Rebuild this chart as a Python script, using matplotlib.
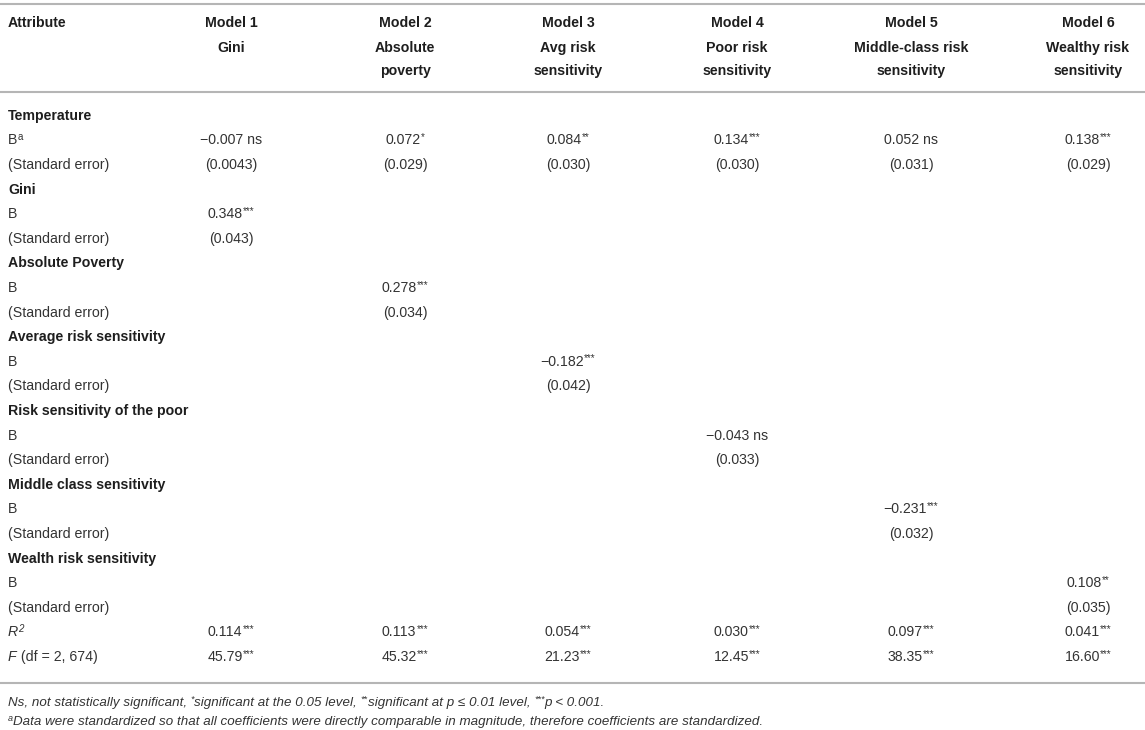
import matplotlib
matplotlib.use("Agg")
import matplotlib.pyplot as plt

# ---- table content ----
models = ["Model 1", "Model 2", "Model 3", "Model 4", "Model 5", "Model 6"]
model_desc = ["Gini", "Absolute\npoverty", "Avg risk\nsensitivity",
              "Poor risk\nsensitivity", "Middle-class risk\nsensitivity",
              "Wealthy risk\nsensitivity"]

temp_b = ["\u22120.007", "0.072", "0.084", "0.134", "0.052", "0.138"]
temp_sig = [" ns", "*", "**", "***", " ns", "***"]
temp_se = ["(0.0043)", "(0.029)", "(0.030)", "(0.030)", "(0.031)", "(0.029)"]

predictors = ["Gini", "Absolute Poverty", "Average risk sensitivity",
              "Risk sensitivity of the poor", "Middle class sensitivity",
              "Wealth risk sensitivity"]
pred_b = ["0.348", "0.278", "\u22120.182", "\u22120.043", "\u22120.231", "0.108"]
pred_sig = ["***", "***", "***", " ns", "***", "**"]
pred_se = ["(0.043)", "(0.034)", "(0.042)", "(0.033)", "(0.032)", "(0.035)"]

r2_vals = ["0.114", "0.113", "0.054", "0.030", "0.097", "0.041"]
r2_sig = ["***"] * 6
f_vals = ["45.79", "45.32", "21.23", "12.45", "38.35", "16.60"]
f_sig = ["***"] * 6

note1 = [("Ns, not statistically significant, ", False), ("*", True),
         ("significant at the 0.05 level, ", False), ("**", True),
         ("significant at p \u2264 0.01 level, ", False), ("***", True),
         ("p < 0.001.", False)]
note2 = [("a", True),
         ("Data were standardized so that all coefficients were directly "
          "comparable in magnitude, therefore coefficients are standardized.", False)]

# ---- layout ----
W, H = 1145, 730
col_x = [231, 405, 568, 737, 911, 1088]
left_x = 8
row0, step = 115, 24.6
FS = 10.2
TXT = "#333333"
BOLD = "#1e1e1e"
LINE = "#b5b5b5"

plt.rcParams["font.family"] = ["Liberation Sans", "DejaVu Sans"]

fig = plt.figure(figsize=(W / 100, H / 100), dpi=100)
ax = fig.add_axes([0, 0, 1, 1])
ax.set_xlim(0, W)
ax.set_ylim(H, 0)
ax.axis("off")
renderer = fig.canvas.get_renderer()


def put(x, y, segs, ha="center", size=FS, sup_size=7.0, raise_px=4.5, **kw):
    """Draw a run of (text, is_superscript) pieces on one baseline."""
    items = []
    for txt, sup in segs:
        if not txt:
            continue
        t = ax.text(0, y + size * 0.48, txt, ha="left", va="baseline",
                    fontsize=sup_size if sup else size, **kw)
        if sup:
            t.set_y(y + size * 0.48 - raise_px)
        items.append(t)
    widths = [t.get_window_extent(renderer).width for t in items]
    total = sum(widths)
    cur = x - total / 2 if ha == "center" else x
    for t, w in zip(items, widths):
        t.set_x(cur)
        cur += w


def row_y(i):
    return row0 + i * step


# rules
for yy in (4, 92, 683):
    ax.plot([0, W], [yy, yy], color=LINE, lw=1.5, solid_capstyle="butt")

# header
put(left_x, 22, [("Attribute", False)], ha="left", color=BOLD, fontweight="bold")
for x, m, d in zip(col_x, models, model_desc):
    put(x, 22, [(m, False)], color=BOLD, fontweight="bold")
    for k, line in enumerate(d.split("\n")):
        put(x, 47 + k * 23.5, [(line, False)], color=BOLD, fontweight="bold")

# temperature block
put(left_x, row_y(0), [("Temperature", False)], ha="left", color=BOLD, fontweight="bold")
put(left_x, row_y(1), [("B", False), ("a", True)], ha="left", color=TXT)
put(left_x, row_y(2), [("(Standard error)", False)], ha="left", color=TXT)
for x, b, s, se in zip(col_x, temp_b, temp_sig, temp_se):
    if s.strip() == "ns":
        put(x, row_y(1), [(b + s, False)], color=TXT)
    else:
        put(x, row_y(1), [(b, False), (s, True)], color=TXT)
    put(x, row_y(2), [(se, False)], color=TXT)

# one block per predictor, each sits in its own model column
for i, name in enumerate(predictors):
    r = 3 + i * 3
    put(left_x, row_y(r), [(name, False)], ha="left", color=BOLD, fontweight="bold")
    put(left_x, row_y(r + 1), [("B", False)], ha="left", color=TXT)
    put(left_x, row_y(r + 2), [("(Standard error)", False)], ha="left", color=TXT)
    s = pred_sig[i]
    if s.strip() == "ns":
        put(col_x[i], row_y(r + 1), [(pred_b[i] + s, False)], color=TXT)
    else:
        put(col_x[i], row_y(r + 1), [(pred_b[i], False), (s, True)], color=TXT)
    put(col_x[i], row_y(r + 2), [(pred_se[i], False)], color=TXT)

# fit statistics
put(left_x, row_y(21), [("R", False), ("2", True)], ha="left", color=TXT, fontstyle="italic")
put(left_x, row_y(22), [("F", False)], ha="left", color=TXT, fontstyle="italic")
ax.texts[-1].set_x(left_x)
f_w = ax.texts[-1].get_window_extent(renderer).width
put(left_x + f_w, row_y(22), [(" (df = 2, 674)", False)], ha="left", color=TXT)
for x, v, s in zip(col_x, r2_vals, r2_sig):
    put(x, row_y(21), [(v, False), (s, True)], color=TXT)
for x, v, s in zip(col_x, f_vals, f_sig):
    put(x, row_y(22), [(v, False), (s, True)], color=TXT)

# footnotes
put(left_x, 701, note1, ha="left", size=9.6, sup_size=6.5, raise_px=4,
    color=TXT, fontstyle="italic")
put(left_x, 720, note2, ha="left", size=9.6, sup_size=6.5, raise_px=4,
    color=TXT, fontstyle="italic")

fig.savefig("out.png", dpi=100)
